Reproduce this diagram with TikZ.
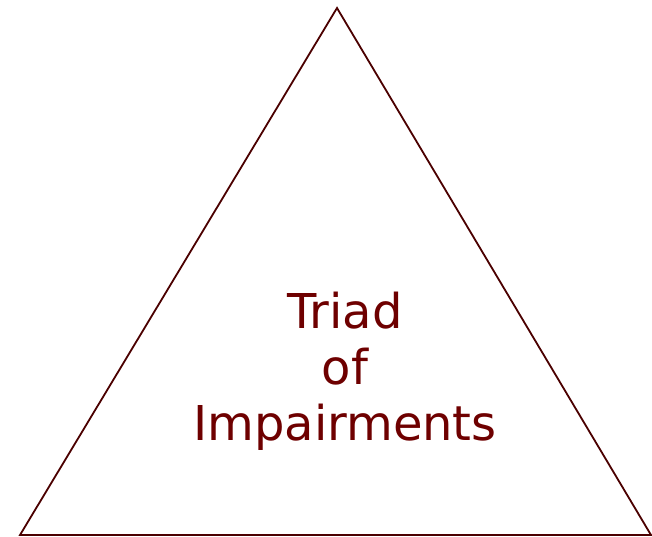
\documentclass[tikz,border=0pt]{standalone}
\usepackage{fontspec}
\setmainfont{DejaVu Sans}
\usetikzlibrary{positioning}
\definecolor{triadred}{RGB}{110,0,0}
\definecolor{edgered}{RGB}{75,0,0}

\begin{document}
\begin{tikzpicture}[x=1pt,y=-1pt]
\useasboundingbox (0,0) rectangle (652,537);

\coordinate (apex) at (337,8);
\coordinate (left) at (20,535);
\coordinate (right) at (651,535);

\draw[edgered,line width=1.8pt,line join=miter] (apex)--(left)--(right)--cycle;

\node[text=triadred,align=center,font=\fontsize{48}{56}\selectfont] (triad) at (345,371) {Triad\\of\\Impairments};

\end{tikzpicture}
\end{document}
